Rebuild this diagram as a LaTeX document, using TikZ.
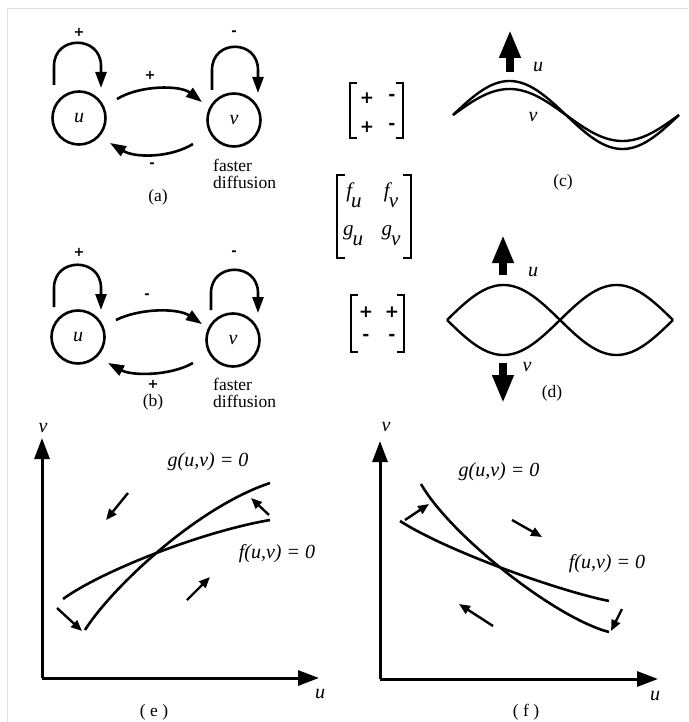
\documentclass[tikz,border=0pt]{standalone}
\usepackage{fontspec}
\setmainfont{Liberation Serif}
\newfontfamily\signfont{DejaVu Sans}
\usetikzlibrary{arrows.meta,calc}
\begin{document}
\begin{tikzpicture}[x=1pt,y=-1pt,
  circ/.style={circle,draw,line width=2.6pt,minimum size=53pt,inner sep=0pt,font=\fontsize{20}{20}\selectfont\itshape},
  lbl/.style={font=\fontsize{17.5}{17}\selectfont,inner sep=0pt},
  sgn/.style={font=\fontsize{13}{13}\selectfont\signfont\bfseries,inner sep=0pt},
  msgn/.style={font=\fontsize{17}{17}\selectfont\signfont\bfseries,inner sep=0pt},
  ment/.style={font=\fontsize{21}{21}\selectfont\itshape,inner sep=0pt},
  var/.style={font=\fontsize{20}{20}\selectfont\itshape,inner sep=0pt},
  eqn/.style={font=\fontsize{20}{20}\selectfont\itshape,inner sep=0pt},
  conn/.style={line width=2.6pt,-{Triangle[length=16pt,width=11pt]}},
  brk/.style={line width=2.3pt},
  wave/.style={line width=2.4pt,line join=round},
  bigarrow/.style={line width=8pt,-{Triangle[length=28pt,width=20pt]}},
  axisline/.style={line width=3pt,-{Triangle[length=21pt,width=15pt]}},
  nullc/.style={line width=2.6pt},
  flow/.style={line width=2.4pt,-{Triangle[length=11pt,width=9pt]}}
]
\useasboundingbox (0,0) rectangle (688,722);
% light frame
\draw[black!12,line width=1pt] (7,722) -- (7,9) -- (688,9);

% ---------- panel (a)
\node[circ] (ua) at (79,118) {u};
\node[circ] (va) at (234,120) {v};
\draw[conn] ($(ua)+(-25,-33)$) -- ($(ua)+(-25,-52)$) .. controls ($(ua)+(-25,-83)$) and ($(ua)+(22,-83)$) .. ($(ua)+(22,-52)$) -- ($(ua)+(22,-30)$);
\draw[conn] ($(va)+(-22,-30)$) -- ($(va)+(-22,-50)$) .. controls ($(va)+(-22,-81)$) and ($(va)+(24,-81)$) .. ($(va)+(24,-50)$) -- ($(va)+(24,-27)$);
\draw[conn] ($(ua)+(38,-19)$) .. controls (140,85) and (180,85) .. ($(va)+(-32,-18)$);
\draw[conn] ($(va)+(-41,24)$) .. controls (170,158) and (135,158) .. ($(ua)+(31,25)$);
\node[sgn] (sa1) at (79,32) {+};
\node[sgn] (sa2) at (234,33) {-};
\node[sgn] (sa3) at (150,75) {+};
\node[sgn] (sa4) at (152,165) {-};
\node[lbl,anchor=west,align=left] (fda) at (213,174) {faster\\diffusion};
\node[lbl] (capa) at (158,197) {(a)};

% ---------- panel (b)
\node[circ] (ub) at (78,337) {u};
\node[circ] (vb) at (233,340) {v};
\draw[conn] ($(ub)+(-24,-30)$) -- ($(ub)+(-24,-49)$) .. controls ($(ub)+(-24,-80)$) and ($(ub)+(23,-80)$) .. ($(ub)+(23,-49)$) -- ($(ub)+(23,-27)$);
\draw[conn] ($(vb)+(-22,-30)$) -- ($(vb)+(-22,-47)$) .. controls ($(vb)+(-22,-78)$) and ($(vb)+(25,-78)$) .. ($(vb)+(25,-47)$) -- ($(vb)+(25,-27)$);
\draw[conn] ($(ub)+(38,-17)$) .. controls (140,308) and (178,308) .. ($(vb)+(-31,-16)$);
\draw[conn] ($(vb)+(-40,23)$) .. controls (170,376) and (132,376) .. ($(ub)+(30,26)$);
\node[sgn] (sb1) at (79,252) {+};
\node[sgn] (sb2) at (234,253) {-};
\node[sgn] (sb3) at (147,296) {-};
\node[sgn] (sb4) at (153,384) {+};
\node[lbl,anchor=west,align=left] (fdb) at (213,393) {faster\\diffusion};
\node[lbl] (capb) at (153,402) {(b)};

% ---------- matrices
\draw[brk] (357,83) -- (350,83) -- (350,138) -- (357,138);
\draw[brk] (396,83) -- (403,83) -- (403,138) -- (396,138);
\node[msgn] (m11) at (367,98) {+};
\node[msgn] (m12) at (392,97) {-};
\node[msgn] (m13) at (367,127) {+};
\node[msgn] (m14) at (392,126) {-};

\draw[brk] (345,175) -- (337,175) -- (337,258) -- (345,258);
\draw[brk] (403,175) -- (411,175) -- (411,258) -- (403,258);
\node[ment] (fu) at (354,195) {f\kern-1pt\lower10pt\hbox{u}};
\node[ment] (fv) at (391,195) {f\kern-1pt\lower10pt\hbox{v}};
\node[ment] (gu) at (353,236) {g\kern-1pt\lower10pt\hbox{u}};
\node[ment] (gv) at (391,236) {g\kern-1pt\lower10pt\hbox{v}};

\draw[brk] (358,295) -- (351,295) -- (351,352) -- (358,352);
\draw[brk] (397,295) -- (404,295) -- (404,352) -- (397,352);
\node[msgn] (m31) at (366,312) {+};
\node[msgn] (m32) at (392,312) {+};
\node[msgn] (m33) at (366,337) {-};
\node[msgn] (m34) at (392,337) {-};

% ---------- panel (c)
\draw[wave] plot[domain=0:360,samples=90] ({453+0.62778*\x},{115-34*sin(\x)});
\draw[wave] plot[domain=0:360,samples=90] ({453+0.62778*\x},{115-26*sin(\x)});
\coordinate (cup0) at (510,72);
\coordinate (cup1) at (510,30);
\draw[bigarrow] (cup0) -- (cup1);
\node[var] (cu) at (538,67) {u};
\node[var] (cv) at (533,117) {v};
\node[lbl] (capc) at (563,182) {(c)};

% ---------- panel (d)
\draw[wave] plot[domain=0:360,samples=90] ({447+0.62778*\x},{320-35*sin(\x)});
\draw[wave] plot[domain=0:360,samples=90] ({447+0.62778*\x},{320+35*sin(\x)});
\coordinate (dup0) at (503,275);
\coordinate (dup1) at (503,235);
\coordinate (ddn0) at (503,363);
\coordinate (ddn1) at (503,403);
\draw[bigarrow] (dup0) -- (dup1);
\draw[bigarrow] (ddn0) -- (ddn1);
\node[var] (du) at (533,272) {u};
\node[var] (dv) at (527,367) {v};
\node[lbl] (capd) at (552,393) {(d)};

% ---------- panel (e)
\coordinate (oe) at (42,678);
\coordinate (ye) at (42,438);
\coordinate (xe) at (319,678);
\draw[axisline] (oe) -- (ye);
\draw[axisline] (oe) -- (xe);
\node[var] (ev) at (43,428) {v};
\node[var] (eu) at (320,694) {u};
\node[lbl] (cape) at (154,712) {( e )};
\draw[nullc] (85,630) .. controls (110,590) and (195,508) .. (270,483);
\draw[nullc] (63,599) .. controls (100,572) and (200,532) .. (270,520);
\node[eqn] (eg) at (208,462) {g(u,v) = 0};
\node[eqn] (ef) at (277,554) {f(u,v) = 0};
\coordinate (ea0) at (128,493); \coordinate (ea1) at (106,520);
\coordinate (eb0) at (269,515); \coordinate (eb1) at (251,498);
\coordinate (ec0) at (57,608);  \coordinate (ec1) at (82,631);
\coordinate (ed0) at (187,600); \coordinate (ed1) at (210,577);
\draw[flow] (ea0) -- (ea1);
\draw[flow] (eb0) -- (eb1);
\draw[flow] (ec0) -- (ec1);
\draw[flow] (ed0) -- (ed1);

% ---------- panel (f)
\coordinate (of) at (380,679);
\coordinate (yf) at (380,441);
\coordinate (xf) at (658,679);
\draw[axisline] (of) -- (yf);
\draw[axisline] (of) -- (xf);
\node[var] (fvl) at (386,427) {v};
\node[var] (ful) at (655,696) {u};
\node[lbl] (capf) at (526,712) {( f )};
\draw[nullc] (421,484) .. controls (450,535) and (555,618) .. (609,632);
\draw[nullc] (400,521) .. controls (445,550) and (555,590) .. (609,601);
\node[eqn] (fg) at (499,472) {g(u,v) = 0};
\node[eqn] (ff) at (607,564) {f(u,v) = 0};
\coordinate (fa0) at (405,520); \coordinate (fa1) at (429,504);
\coordinate (fb0) at (512,520); \coordinate (fb1) at (542,537);
\coordinate (fc0) at (493,626); \coordinate (fc1) at (459,604);
\coordinate (fd0) at (622,609); \coordinate (fd1) at (611,631);
\draw[flow] (fa0) -- (fa1);
\draw[flow] (fb0) -- (fb1);
\draw[flow] (fc0) -- (fc1);
\draw[flow] (fd0) -- (fd1);
\end{tikzpicture}
\end{document}
